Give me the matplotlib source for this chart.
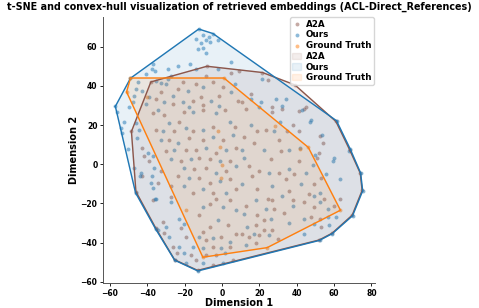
import numpy as np
import matplotlib
matplotlib.use("Agg")
import matplotlib.pyplot as plt

# ---------------- data (t-SNE coordinates) ----------------
a2a_points = [
    # hull-ish extremes
    (-8, 50), (-38, 42), (-48.4, 16.7), (-46, -14), (-35.3, -32.8), (-25.3, -48.8),
    (-13, -54.2), (52, -38.7), (59, -35.2), (69.7, -26), (75, -13.4), (74, -4.6),
    (68.3, 7.4), (61, 21.8), (39, 40.5), (21.7, 46.8), (9, 47.8),
    # upper interior
    (-21, 41.8), (-23.7, 38.4), (-13.8, 40.9), (-4.8, 41.8), (0.5, 39.2), (-1.3, 35),
    (-11.1, 34.2), (-15.6, 32.5), (-26.3, 30.8), (-35.3, 33.3), (-32.6, 36.7),
    (-8.4, 45.1), (5, 46.8), (8.6, 32.5), (-10.2, 30), (24.4, 43), (15.4, 35.8),
    (27, 29.2), (45, 29.2), (10.9, 31.6), (41, 27), (52.7, 14.2), (51.8, 5.7),
    (50.9, 3.2), (41, 16.7), (38.2, 20), (34.6, 16.7),
    # left / middle
    (-42.5, 8.2), (-41.6, 4), (-38.9, 1.5), (-32.6, -3.5), (-34.4, -9.4), (-42.5, -6),
    (-37.1, 25.9), (-30.8, 25.1), (-22.7, 21.7), (-20.4, 26.8), (-10.2, 27.6), (1.5, 27.6),
    (6.8, 19.2), (-4.8, 19.2), (-15.6, 16.7), (-25.4, 16.7), (-35.3, 17.5), (-28.1, 12.5),
    (-17.4, 13.3), (-10.2, 12.5), (0.5, 12.5), (7.7, 8.2), (-3.1, 5.7), (-13.8, 7.4),
    (-19.2, 7.4), (-29.9, 6.6), (-21.9, 1.5), (-12, 3.2), (-6.6, 2.4), (4.1, 1.5),
    (2.3, -3.5), (-8.4, -1.9), (-14.7, -2.7), (-23.7, -6.1), (-12, -6.9), (-6.6, -9.4),
    (4.1, -7.7), (-15.6, -14.5), (-4.8, -14.5), (7.7, -12.8), (-27, -11),
    # right / middle
    (12.7, 28.4), (27, 26.8), (32.4, 28.4), (44.1, 28.4), (54, 10.8), (41.4, 1.5),
    (30.6, 12.5), (23.5, 17.5), (19, 16.7), (11.8, 14.1), (17.2, 10.8), (26.2, 2.4),
    (31.5, 6.6), (30.6, -4.4), (19.9, -3.5), (14.5, -1), (16.3, -6.1), (19, -12.8),
    (34.2, -7.7), (38.7, -5.2), (49.5, -10.3), (36, -13.6), (53.1, -6.9), (46.8, -15.3),
    # lower left band
    (-37.1, -18.5), (-27.3, -16.8), (-31.7, -29.5), (-30.8, -35), (-21.9, -32.8),
    (-19.2, -37), (-26.3, -42.1), (-16.8, -46.3), (-13.8, -48.8), (-4.8, -51.4),
    (5.9, -48.8), (-24.2, -45.5),
    # lower interior
    (-12, -26.1), (-6.6, -20.2), (-3.1, -17.7), (4.1, -18.5), (3.2, -31.2), (-6.6, -32),
    (-10.2, -34.5), (-8.4, -38.7), (-0.4, -37), (7.7, -35.4), (-4.8, -42.1), (4.1, -42.1),
    (-3.1, -46.3), (-8.4, -46.3),
    # lower right
    (12.7, -21.1), (24.4, -17.7), (27, -18.5), (19, -26.1), (27.9, -22.7), (22.6, -28.6),
    (18.1, -31.2), (10.9, -35.4), (22.6, -33.7), (27, -33.7), (19.9, -36.2), (14.5, -37),
    (18.1, -40.4), (44.1, -19.4), (49.5, -21.9), (60.2, -21.1), (62.9, -17.7),
    (52.2, -27.8), (47.7, -26.9), (53.1, -32), (37.8, -18.5), (54.8, -17.7), (33, -25),
    (30, -38),
]

ours_points = [
    # hull-ish extremes
    (-12.4, 69), (-4.8, 66.7), (61.3, 22.2), (68.6, 7.8), (74.2, -4.5), (75.3, -13.6),
    (69.9, -26.3), (59.1, -35.4), (52.2, -38.9), (-12.9, -54.5), (-25.3, -49),
    (-35.5, -33), (-46.2, -14.6), (-57, 29.5), (-48.9, 43.9),
    # top cap
    (-10.2, 66.2), (-7, 65), (-8.4, 63.6), (-11.1, 62), (-6.6, 62.3), (-10.2, 59.4),
    (-12.9, 58.9), (-8.4, 56.9), (-2.2, 63.6), (-14, 64), (4.7, 52.2), (-17, 51),
    (-23.7, 50.2), (-37, 51), (-37.3, 48.8), (-36, 47.6), (-40.7, 46), (-29, 48.5),
    (-27.2, 45), (-13.6, 48.6), (-29, 43.4),
    # upper left band
    (-45, 41.8), (-46, 38.4), (-47, 35), (-47.8, 31.7), (-49.6, 29), (-42.5, 37.5),
    (-35.3, 42.6), (-32.6, 41.7), (-29.9, 40.8), (-56, 26.8), (-52.5, 21.7),
    (-53.8, 18.5), (-46.1, 20.9), (-44.3, 17.5), (-45.2, 13.3), (-53.2, 15.8),
    (-50.5, 8), (-46.8, -2), (-44, -6),
    # upper interior
    (-18.3, 37.5), (-26.3, 35), (-10.2, 39.2), (5, 36.7), (-5.8, 32.5), (-21, 31.7),
    (-30.8, 31.7), (-38.9, 34.2), (-40.7, 30.8), (-2.2, 48.5), (6.8, 41), (-17.4, 29.2),
    (-1.3, 29.6), (21.7, 43.4), (15.4, 33.3), (20.8, 31.6), (28.9, 33.3), (34.2, 33.3),
    (32.4, 29.6), (42.8, 27.6), (47.3, 21.7), (53.6, 15), (50, 4.9), (59.8, 3.2),
    (67.9, 6.9), (41.9, 8.2), (31, 21.7),
    # left / middle
    (-39.8, 5.7), (-37.1, 4), (-36.2, -1.9), (-37.5, -6), (-37.1, -12), (-43.4, -4.4),
    (-34.4, 27.6), (-28.1, 20.9), (-15.6, 26.8), (-3.1, 25.9), (4.1, 21.7), (-10.2, 17.5),
    (-19.2, 18.3), (-31.7, 16.7), (-32.6, 12.5), (-23.7, 10.8), (-4.8, 14.1), (5.9, 15),
    (2.3, 7.4), (-8.4, 8.2), (-25.4, 7.4), (-27.2, 2.4), (-16.5, 2.4), (-1.2, 1.5),
    (7.7, -1), (-3.1, -4.4), (-20.1, -1.9), (-17.4, -6.9), (-1.2, -8.6), (-10.2, -12.8),
    (2.3, -14.5), (-20.4, -11.1), (-37.8, -9.4), (-36, -17.7), (-27, -19.5),
    # right / middle
    (19.9, 29.3), (47.7, 22.6), (48.5, -0.2), (36, 7.4), (27.9, 16.7), (15.4, 20.1),
    (10.9, 7.4), (22.6, 7.4), (36, -2.7), (25.3, -4.4), (11.8, 3.2), (10.9, -10.3),
    (27, -11.1), (45, -4.4), (42.3, -10.3), (55.8, -5.2), (62.9, -7.7), (59.3, 1.5),
    (52.2, -14.5),
    # lower left band
    (-35.3, -17.7), (-22.7, -27.8), (-29.9, -32), (-34.4, -33.7), (-28.1, -37),
    (-20.1, -30.3), (-22.7, -42.1), (-20.4, -45.5), (-15.6, -42.1), (-10.2, -50.5),
    (0.5, -50.5), (-19.2, -50.5),
    # lower interior
    (-10.2, -21.9), (0.5, -21.9), (7.7, -23.6), (-2.2, -28.6), (-12, -37), (-4.8, -37.9),
    (4.1, -39.6), (-0.4, -43), (-10.2, -43), (1.5, -45.5),
    # lower right
    (18.1, -18.5), (32.4, -16), (11.8, -25.3), (23.5, -22.7), (26.2, -27.8), (13.6, -32),
    (17.2, -35.4), (25.3, -36.2), (12.7, -41.3), (37.8, -21.1), (52.2, -19.4),
    (56.6, -22.7), (61.1, -26.9), (56.6, -26.9), (44.1, -27.8), (49.5, -30.3),
    (57.5, -31.2), (44.1, -35.4), (49.5, -16), (36, -30),
]

gt_points = [
    (-48.9, 44), (1.1, 44), (46.2, 8.6), (63.4, -23.5), (24.2, -42.6), (-10.2, -47.5),
    (-51, 36.9), (-40, 34.3), (-2.2, 17.2), (-1, 8.7), (0, -0.2), (-0.4, -6.9),
    (28.2, 19.6), (42, 7.7), (-19.2, -23.6),
]

series_names = ["A2A", "Ours", "Ground Truth"]
series_colors = ["#8c564b", "#1f77b4", "#ff7f0e"]
title_text = "t-SNE and convex-hull visualization of retrieved embeddings (ACL-Direct_References)"


def convex_hull(pts):
    pts = sorted(set(map(tuple, pts)))

    def cross(o, a, b):
        return (a[0] - o[0]) * (b[1] - o[1]) - (a[1] - o[1]) * (b[0] - o[0])

    lower, upper = [], []
    for p in pts:
        while len(lower) >= 2 and cross(lower[-2], lower[-1], p) <= 0:
            lower.pop()
        lower.append(p)
    for p in reversed(pts):
        while len(upper) >= 2 and cross(upper[-2], upper[-1], p) <= 0:
            upper.pop()
        upper.append(p)
    return np.array(lower[:-1] + upper[:-1])


fig = plt.figure(figsize=(4.79, 3.08), dpi=100)
ax = fig.add_axes([0.215, 0.081, 0.568, 0.864])

all_sets = [np.array(a2a_points), np.array(ours_points), np.array(gt_points)]

for pts, name, col in zip(all_sets, series_names, series_colors):
    ax.scatter(pts[:, 0], pts[:, 1], s=8, color=col, alpha=0.5, label=name,
               linewidths=0)

for pts, name, col in zip(all_sets, series_names, series_colors):
    hull = convex_hull(pts)
    closed = np.vstack([hull, hull[:1]])
    ax.fill(closed[:, 0], closed[:, 1], color=col, alpha=0.1, label=name)
    ax.plot(closed[:, 0], closed[:, 1], color=col, lw=1.0)

ax.set_xticks(np.arange(-60, 81, 20))
ax.set_yticks(np.arange(-60, 61, 20))
for lab in ax.get_xticklabels() + ax.get_yticklabels():
    lab.set_fontweight("bold")
    lab.set_fontsize(5.5)
ax.tick_params(length=2.5, width=0.6, pad=1.5)
ax.spines["top"].set_visible(False)
ax.spines["right"].set_visible(False)
for s in ["left", "bottom"]:
    ax.spines[s].set_linewidth(0.7)
    ax.spines[s].set_color("#555555")

ax.set_xlabel("Dimension 1", fontsize=7, fontweight="bold", labelpad=0.5)
ax.set_ylabel("Dimension 2", fontsize=7, fontweight="bold", labelpad=1)
fig.suptitle(title_text, fontsize=6.9, fontweight="bold", x=0.5, y=0.995, va="top")

leg = ax.legend(loc="upper right", bbox_to_anchor=(0.995, 1.0), borderaxespad=0,
                prop={"weight": "bold", "size": 6.3}, handlelength=1.0,
                handletextpad=0.5, labelspacing=0.2, borderpad=0.3,
                markerscale=1.0, framealpha=0.8)

fig.savefig("out.png", dpi=100)
